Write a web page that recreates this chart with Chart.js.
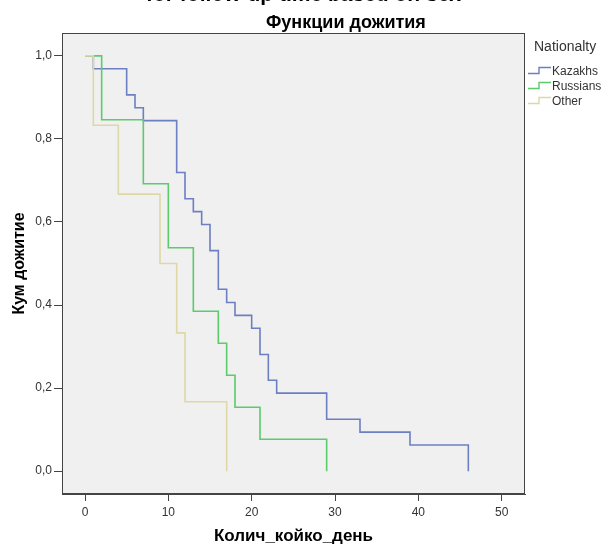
<!DOCTYPE html>
<html>
<head>
<meta charset="utf-8">
<script src="https://cdn.jsdelivr.net/npm/chart.js@4"></script>
<style>
  body { margin: 0; background: #fff; font-family: 'Liberation Sans', Arial, sans-serif; }
  #wrap { position: relative; width: 601px; height: 546px; overflow: hidden; }
  #top { position: absolute; left: 0; width: 601px; top: -18px; text-align: center; padding-left: 6px; box-sizing: border-box;
         font: bold 21px 'Liberation Sans', Arial, sans-serif; color: #000; white-space: nowrap; }
  #sub { position: absolute; left: 266px; top: 12px; font: bold 18px 'Liberation Sans', Arial, sans-serif; color: #000; white-space: nowrap; }
  #legend { position: absolute; left: 528px; top: 38px; color: #333; white-space: nowrap; }
  #legend .ttl { font-size: 14px; margin-left: 6px; margin-bottom: 9px; }
  #legend .item { font-size: 12px; height: 15px; line-height: 12px; display: flex; align-items: center; }
  #legend svg { margin-right: 1px; }
</style>
</head>
<body>
<div id="wrap">
  <canvas id="km" width="601" height="546"></canvas>
  <div id="top">for follow-up time based on sex</div>
  <div id="sub">Функции дожития</div>
  <div id="legend"><div class="ttl">Nationalty</div></div>
</div>
<script>
// Kaplan-Meier estimates
const groups = ['Kazakhs', 'Russians', 'Other'];
const kazTime = [0, 1, 5, 6, 7, 11, 12, 13, 14, 15, 16, 17, 18, 20, 21, 22, 23, 29, 33, 39, 46];
const kazSurv = [1, 0.969, 0.906, 0.875, 0.844, 0.719, 0.656, 0.625, 0.594, 0.531, 0.438, 0.406, 0.375, 0.344, 0.281, 0.219, 0.188, 0.125, 0.094, 0.063, 0];
const rusTime = [0, 2, 7, 10, 13, 16, 17, 18, 21, 29];
const rusSurv = [1, 0.846, 0.692, 0.538, 0.385, 0.308, 0.231, 0.154, 0.077, 0];
const othTime = [0, 1, 4, 9, 11, 12, 17];
const othSurv = [1, 0.833, 0.667, 0.5, 0.333, 0.167, 0];
const colors = ['#6c7fc2', '#5bcb6c', '#ddd8a6'];
const xTicks = [0, 10, 20, 30, 40, 50];
const yTicks = [0, 0.2, 0.4, 0.6, 0.8, 1.0];

function pts(t, s) {
  return t.map((v, i) => ({ x: v, y: s[i] }));
}

const series = [pts(kazTime, kazSurv), pts(rusTime, rusSurv), pts(othTime, othSurv)];

// plot background and frame like SPSS
const frame = {
  id: 'frame',
  beforeDraw(chart) {
    const { ctx, chartArea: a } = chart;
    ctx.save();
    ctx.fillStyle = '#f0f0f0';
    ctx.fillRect(a.left, a.top, a.right - a.left, a.bottom - a.top);
    ctx.restore();
  },
  afterDraw(chart) {
    const { ctx, chartArea: a } = chart;
    ctx.save();
    ctx.strokeStyle = '#444';
    ctx.lineWidth = 1;
    ctx.strokeRect(a.left + 0.5, a.top + 0.5, a.right - a.left - 1, a.bottom - a.top - 1);
    ctx.restore();
  }
};

const tickFont = { family: "'Liberation Sans', Arial, sans-serif", size: 12 };

new Chart(document.getElementById('km'), {
  type: 'line',
  data: {
    datasets: series.map((d, i) => ({
      label: groups[i],
      data: d,
      stepped: 'before',
      borderColor: colors[i],
      borderWidth: 1.6,
      pointRadius: 0,
      fill: false,
    })).reverse(),
  },
  options: {
    responsive: false,
    animation: false,
    layout: { padding: { top: 33, right: 76, bottom: 0, left: 0 } },
    plugins: {
      legend: { display: false },
      tooltip: { enabled: false },
    },
    scales: {
      x: {
        type: 'linear',
        min: -2.76,
        max: 52.8,
        afterBuildTicks: s => { s.ticks = xTicks.map(v => ({ value: v })); },
        afterFit: s => { s.height = 52; },
        ticks: { font: tickFont, color: '#333', padding: 4, maxRotation: 0 },
        grid: { drawOnChartArea: false, tickLength: 7, color: '#444' },
        border: { color: '#444' },
        title: {
          display: true,
          text: 'Колич_койко_день',
          color: '#000',
          font: { family: "'Liberation Sans', Arial, sans-serif", size: 17, weight: 'bold' },
          padding: { top: 0, bottom: -1 },
        },
      },
      y: {
        type: 'linear',
        min: -0.055,
        max: 1.055,
        afterBuildTicks: s => { s.ticks = yTicks.map(v => ({ value: v })); },
        afterFit: s => { s.width = 62; },
        ticks: {
          font: tickFont,
          color: '#333',
          padding: 2,
          callback: v => v.toFixed(1).replace('.', ','),
        },
        grid: { drawOnChartArea: false, tickLength: 8, color: '#444' },
        border: { color: '#444' },
        title: {
          display: true,
          text: 'Кум дожитие',
          color: '#000',
          font: { family: "'Liberation Sans', Arial, sans-serif", size: 16, weight: 'bold' },
          padding: { top: 10, bottom: 0 },
        },
      },
    },
  },
  plugins: [frame],
});

// legend with small step icons
const leg = document.getElementById('legend');
groups.forEach((g, i) => {
  const row = document.createElement('div');
  row.className = 'item';
  row.innerHTML = '<svg width="23" height="9"><polyline points="0,7.5 11,7.5 11,1.5 23,1.5" fill="none" stroke="' +
    colors[i] + '" stroke-width="1.4"/></svg>' + g;
  leg.appendChild(row);
});
</script>
</body>
</html>
